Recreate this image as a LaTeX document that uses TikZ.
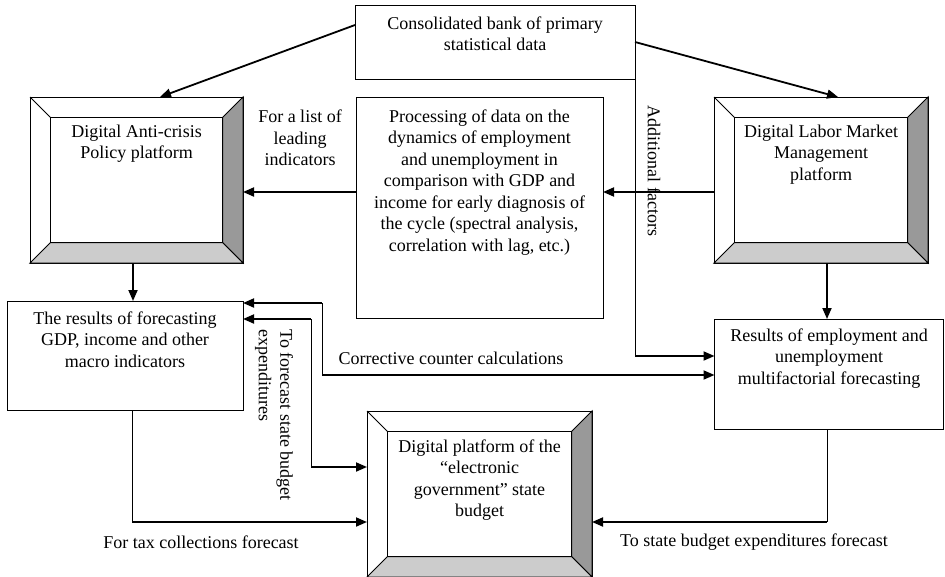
\documentclass[tikz,border=0pt]{standalone}
\usepackage{fontspec}
\setmainfont{Liberation Serif}
\usepackage{tikz}
\usetikzlibrary{positioning}
\usetikzlibrary{calc}
\usetikzlibrary{arrows.meta}
\definecolor{bevelside}{RGB}{153,153,153}
\definecolor{bevelbase}{RGB}{204,204,204}
\tikzset{box/.style={draw, line width=1pt, fill=white, inner sep=0pt, outer sep=0pt}}
\tikzset{boxtext/.style={align=center, inner sep=0pt}}
\tikzset{flow/.style={line width=1.8pt, -{Triangle[length=11pt,width=9pt]}}}
\tikzset{feed/.style={line width=1.8pt}}
\tikzset{riser/.style={line width=1pt}}
\newcommand{\bevelframe}[1]{%
  \coordinate (#1-nw) at ($(#1.north west)+(20.5,20.5)$);
  \coordinate (#1-ne) at ($(#1.north east)+(-20.5,20.5)$);
  \coordinate (#1-se) at ($(#1.south east)+(-20.5,-20.5)$);
  \coordinate (#1-sw) at ($(#1.south west)+(20.5,-20.5)$);
  \filldraw[line width=1pt, fill=bevelside] (#1.north east) -- (#1.south east) -- (#1-se) -- (#1-ne) -- cycle;
  \filldraw[line width=1pt, fill=bevelbase] (#1.south west) -- (#1.south east) -- (#1-se) -- (#1-sw) -- cycle;
  \draw[line width=1pt] (#1.north west) -- (#1-nw);
  \draw[line width=1pt] (#1-nw) rectangle (#1-se);
}

\begin{document}
\begin{tikzpicture}[x=1pt, y=-1pt, font=\fontsize{18}{21.5}\selectfont]
\useasboundingbox (0,0) rectangle (945,576);

% boxes
\node[box, minimum width=280pt, minimum height=74pt] (bank) at (495,42) {};
\node[box, minimum width=213pt, minimum height=166pt] (anti) at (136.5,180) {};
\node[box, minimum width=214pt, minimum height=166pt] (labor) at (821,180) {};
\node[box, minimum width=247pt, minimum height=221pt] (proc) at (479.5,207.5) {};
\node[box, minimum width=236pt, minimum height=109pt] (gdp) at (125,355.5) {};
\node[box, minimum width=229pt, minimum height=110pt] (emp) at (829,374) {};
\node[box, minimum width=225pt, minimum height=166pt] (budget) at (479.5,494) {};
\bevelframe{anti}
\bevelframe{labor}
\bevelframe{budget}

% texts in boxes
\node[boxtext, below=11.5pt of bank.north] (bankT) {Consolidated bank of primary\\statistical data};
\node[boxtext, below=27.5pt of anti.north] (antiT) {Digital Anti-crisis\\Policy platform};
\node[boxtext, below=27.5pt of labor.north] (laborT) {Digital Labor Market\\Management\\platform};
\node[boxtext, below=12.5pt of proc.north] (procT) {Processing of data on the\\dynamics of employment\\and unemployment in\\comparison with GDP and\\income for early diagnosis of\\the cycle (spectral analysis,\\correlation with lag, etc.)};
\node[boxtext, below=10.5pt of gdp.north] (gdpT) {The results of forecasting\\GDP, income and other\\macro indicators};
\node[boxtext, below=9.5pt of emp.north] (empT) {Results of employment and\\unemployment\\multifactorial forecasting};
\node[boxtext, below=28.5pt of budget.north] (budgetT) {Digital platform of the\\“electronic\\government” state\\budget};

% corners
\coordinate (addf) at ([yshift=18pt]emp.west -| bank.south east);
\coordinate (corrT) at ([yshift=52.5pt]gdp.east -| 322,0);
\coordinate (corrB) at ([yshift=-1pt]emp.west -| corrT);
\coordinate (fcT) at ([yshift=36.5pt]gdp.east -| 311,0);
\coordinate (fcB) at ([yshift=27pt]budget.west -| fcT);
\coordinate (taxB) at ([xshift=7pt]gdp.south |- 0,522);
\coordinate (expB) at ([xshift=-2pt]emp.south |- 0,522);

% connectors
\draw[flow] ([yshift=17pt]bank.west) -- ([xshift=23.5pt]anti.north);
\draw[flow] (bank.east) -- ([xshift=17pt]labor.north);
\draw[flow] ([yshift=-12pt]labor.west) -- ([yshift=-12pt]labor.west -| proc.east);
\draw[flow] ([yshift=-12pt]anti.east -| proc.west) -- ([yshift=-12pt]anti.east);
\draw[flow] ([xshift=-3.5pt]anti.south) -- ([xshift=-3.5pt]anti.south |- gdp.north);
\draw[flow] ([xshift=6pt]labor.south) -- ([xshift=6pt]labor.south |- emp.north);
\draw[riser] (bank.south east) -- (addf);
\draw[flow] (addf) -- (addf -| emp.west);
\draw[flow] (corrT) -- (corrT -| gdp.east);
\draw[riser] (corrT) -- (corrB);
\draw[flow] (corrB) -- (corrB -| emp.west);
\draw[flow] (fcT) -- (fcT -| gdp.east);
\draw[riser] (fcT) -- (fcB);
\draw[flow] (fcB) -- (fcB -| budget.west);
\draw[riser] ([xshift=7pt]gdp.south) -- (taxB);
\draw[flow] (taxB) -- (taxB -| budget.west);
\draw[riser] ([xshift=-2pt]emp.south) -- (expB);
\draw[flow] (expB) -- (expB -| budget.east);

% labels
\node[rotate=-90] (addfL) at (654,171) {Additional factors};
\node[align=center, inner sep=0pt] (leadL) at (300,138) {For a list of\\leading\\indicators};
\node[inner sep=0pt] (corrL) at (451,358) {Corrective counter calculations};
\node[rotate=-90, align=left, inner sep=0pt] (fcL) at (274,415) {To forecast state budget\\expenditures};
\node[inner sep=0pt] (taxL) at (201,542) {For tax collections forecast};
\node[inner sep=0pt] (expL) at (754,542) {To state budget expenditures forecast};
\end{tikzpicture}
\end{document}
